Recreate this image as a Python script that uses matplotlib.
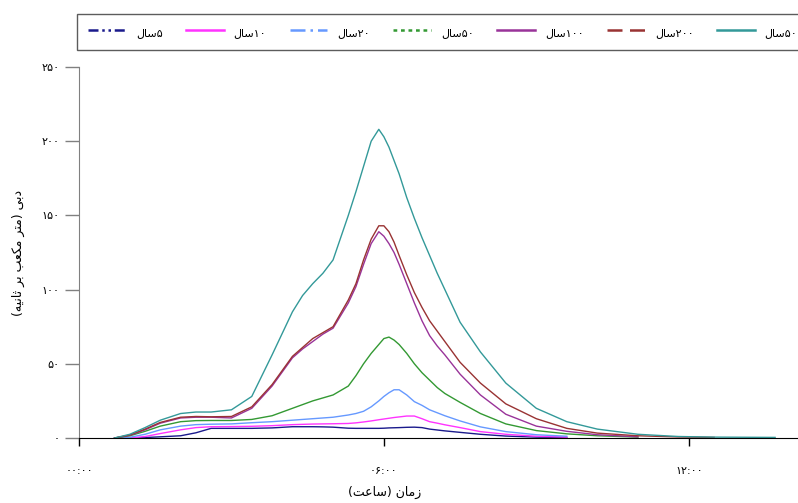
import re
import numpy as np
import matplotlib
matplotlib.use('Agg')
import matplotlib.pyplot as plt
from matplotlib.lines import Line2D

plt.rcParams['font.family'] = ['DejaVu Sans']

# زمان (ساعت)
hours = [0.7, 1.0, 1.3, 1.6, 2.0, 2.3, 2.6, 3.0, 3.4, 3.8,
         4.2, 4.4, 4.6, 4.8, 5.0, 5.3, 5.45, 5.6, 5.75, 5.9,
         6.0, 6.1, 6.2, 6.3, 6.45, 6.6, 6.75, 6.9, 7.05, 7.2,
         7.5, 7.9, 8.4, 9.0, 9.6, 10.2, 11.0, 11.8, 12.5, 13.7]
nan = np.nan

q5 = [0, 0, 0.3, 0.8, 1.5, 3.5, 6.5, 6.5, 6.5, 6.8,
      7.6, 7.6, 7.6, 7.5, 7.3, 6.6, 6.5, 6.5, 6.5, 6.5,
      6.6, 6.8, 6.9, 7.0, 7.2, 7.3, 7.0, 6.0, 5.4, 4.8,
      3.8, 2.5, 1.3, 0.6, 0.3, nan, nan, nan, nan, nan]
q10 = [0, 0, 1.0, 3.0, 5.5, 7.0, 7.6, 7.7, 7.9, 8.3,
       9.0, 9.2, 9.4, 9.5, 9.6, 9.8, 10.2, 10.8, 11.5, 12.3,
       12.8, 13.3, 13.8, 14.2, 14.8, 14.8, 13.0, 11.0, 10.0, 8.9,
       7.0, 4.3, 2.5, 1.2, 0.6, nan, nan, nan, nan, nan]
q20 = [0, 0.5, 2.5, 5.5, 8.0, 9.0, 9.3, 9.5, 10.3, 11.0,
       12.0, 12.5, 13.0, 13.5, 14.0, 15.5, 16.5, 18.0, 21.0, 25.0,
       28.0, 30.5, 32.5, 32.5, 29.0, 24.5, 22.0, 19.0, 17.0, 15.0,
       11.5, 7.5, 4.3, 2.2, 1.2, nan, nan, nan, nan, nan]
q50 = [0, 1.5, 4.5, 8.0, 11.0, 11.7, 11.8, 11.8, 12.5, 15.0,
       20.0, 22.5, 25.0, 27.0, 29.0, 35.0, 42.0, 50.0, 57.0, 63.0,
       67.0, 68.0, 66.0, 63.0, 57.0, 50.0, 44.0, 39.0, 34.0, 30.0,
       24.0, 16.5, 9.5, 5.0, 2.8, 1.5, 0.6, nan, nan, nan]
q100 = [0, 1.8, 5.5, 10.0, 13.5, 14.0, 14.0, 13.5, 20.0, 35.0,
        54.0, 60.0, 65.0, 70.0, 74.0, 91.0, 102.0, 117.0, 131.0, 139.0,
        136.0, 131.0, 125.0, 117.0, 104.0, 91.0, 79.0, 69.0, 62.0, 56.0,
        43.0, 29.0, 16.0, 8.0, 4.5, 2.2, 0.8, nan, nan, nan]
q200 = [0, 2.0, 6.0, 10.5, 14.0, 14.5, 14.3, 14.5, 21.0, 36.0,
        55.0, 61.0, 67.0, 71.0, 75.0, 93.0, 104.0, 120.0, 134.0, 143.0,
        143.0, 139.0, 132.0, 123.0, 110.0, 98.0, 88.0, 79.0, 72.0, 65.0,
        51.0, 37.0, 23.0, 13.0, 6.5, 3.3, 1.5, 0.7, 0.4, nan]
q500 = [0, 2.5, 7.0, 12.0, 16.5, 17.5, 17.5, 19.0, 28.0, 56.0,
        85.0, 96.0, 104.0, 111.0, 120.0, 150.0, 166.0, 183.0, 200.0, 208.0,
        203.0, 196.0, 187.0, 178.0, 162.0, 148.0, 135.0, 123.0, 111.0, 100.0,
        78.0, 58.0, 37.0, 20.0, 11.0, 6.0, 2.5, 1.0, 0.6, 0.4]

periods = ['۵', '۱۰', '۲۰', '۵۰', '۱۰۰', '۲۰۰', '۵۰۰']
series = [q5, q10, q20, q50, q100, q200, q500]
colors = ['#1a1a8c', '#ff33ff', '#6699ff', '#339933', '#993399', '#993333', '#339999']
legend_styles = [(0, (4, 1.5, 1, 1.5, 1, 1.5)), '-', (0, (6, 2, 1, 2)), (0, (1.5, 1.5)),
                 '-', (0, (6, 3)), '-']

x_ticks = [0, 6, 12]
x_ticklabels = ['۰۰:۰۰', '۰۶:۰۰', '۱۲:۰۰']
y_ticks = [0, 50, 100, 150, 200, 250]

# شکل حروف فارسی (matplotlib خودش اتصال و راست به چپ را انجام نمی‌دهد)
FORMS = {
    'ا': ('\uFE8D', '\uFE8E', None, None),
    'د': ('\uFEA9', '\uFEAA', None, None),
    'ر': ('\uFEAD', '\uFEAE', None, None),
    'ز': ('\uFEAF', '\uFEB0', None, None),
    'ب': ('\uFE8F', '\uFE90', '\uFE91', '\uFE92'),
    'ت': ('\uFE95', '\uFE96', '\uFE97', '\uFE98'),
    'ث': ('\uFE99', '\uFE9A', '\uFE9B', '\uFE9C'),
    'س': ('\uFEB1', '\uFEB2', '\uFEB3', '\uFEB4'),
    'ع': ('\uFEC9', '\uFECA', '\uFECB', '\uFECC'),
    'ل': ('\uFEDD', '\uFEDE', '\uFEDF', '\uFEE0'),
    'م': ('\uFEE1', '\uFEE2', '\uFEE3', '\uFEE4'),
    'ن': ('\uFEE5', '\uFEE6', '\uFEE7', '\uFEE8'),
    'ه': ('\uFEE9', '\uFEEA', '\uFEEB', '\uFEEC'),
    'ک': ('\uFB8E', '\uFB8F', '\uFB90', '\uFB91'),
    'ی': ('\uFBFC', '\uFBFD', '\uFBFE', '\uFBFF'),
}
DIGITS = '۰۱۲۳۴۵۶۷۸۹'


def fa(text):
    shaped = []
    for i, ch in enumerate(text):
        if ch not in FORMS:
            shaped.append(ch)
            continue
        prev = text[i - 1] if i > 0 else None
        nxt = text[i + 1] if i + 1 < len(text) else None
        iso, fin, ini, med = FORMS[ch]
        jp = prev in FORMS and FORMS[prev][2] is not None
        jn = nxt in FORMS and ini is not None
        if jp and jn:
            shaped.append(med)
        elif jp:
            shaped.append(fin)
        elif jn:
            shaped.append(ini)
        else:
            shaped.append(iso)
    shaped = ''.join(shaped)
    runs = re.findall('[' + DIGITS + ']+|[^' + DIGITS + ']+', shaped)
    out = []
    for r in reversed(runs):
        if r[0] in DIGITS:
            out.append(r)
        else:
            out.append(r[::-1].translate(str.maketrans('()', ')(')))
    return ''.join(out)


def to_fa_num(v):
    return str(int(v)).translate(str.maketrans('0123456789', DIGITS))


fig = plt.figure(figsize=(7.98, 5.03), dpi=100)
ax = fig.add_axes([79 / 798, 65 / 503, 719 / 798, 371 / 503])

for vals, c in zip(series, colors):
    ax.plot(hours, vals, color=c, lw=1.0)

ax.set_xlim(0, 14.15)
ax.set_ylim(0, 250)
ax.set_xticks(x_ticks)
ax.set_xticklabels(x_ticklabels)
ax.set_yticks(y_ticks)
ax.set_yticklabels([to_fa_num(v) for v in y_ticks])

for s in ['top', 'right']:
    ax.spines[s].set_visible(False)
ax.spines['left'].set_color('#808080')
ax.spines['bottom'].set_color('#000000')
ax.tick_params(axis='y', direction='out', length=10, width=1, color='#808080', pad=4, labelsize=8)
ax.tick_params(axis='x', direction='out', length=6, width=1, color='#000000', pad=14, labelsize=8)

ax.set_xlabel(fa('زمان (ساعت)'), fontsize=9)
ax.xaxis.set_label_coords(0.4256, -0.129)
ax.set_ylabel(fa('دبی (متر مکعب بر ثانیه)'), fontsize=9)
ax.yaxis.set_label_coords(-0.075, 0.5)

handles = [Line2D([], [], color=c, lw=1.8, linestyle=ls) for c, ls in zip(colors, legend_styles)]
labels = [fa(p + 'سال') for p in periods]
leg = fig.legend(handles, labels, loc='upper left', bbox_to_anchor=(77 / 798, 1 - 14 / 503),
                 ncol=7, fontsize=8, handlelength=3.4, handleheight=1.5, handletextpad=0.9,
                 columnspacing=2.1, borderpad=1.0, frameon=True, fancybox=False, borderaxespad=0)
leg.get_frame().set_edgecolor('#333333')
leg.get_frame().set_linewidth(1.0)

fig.savefig('out.png', dpi=100)
